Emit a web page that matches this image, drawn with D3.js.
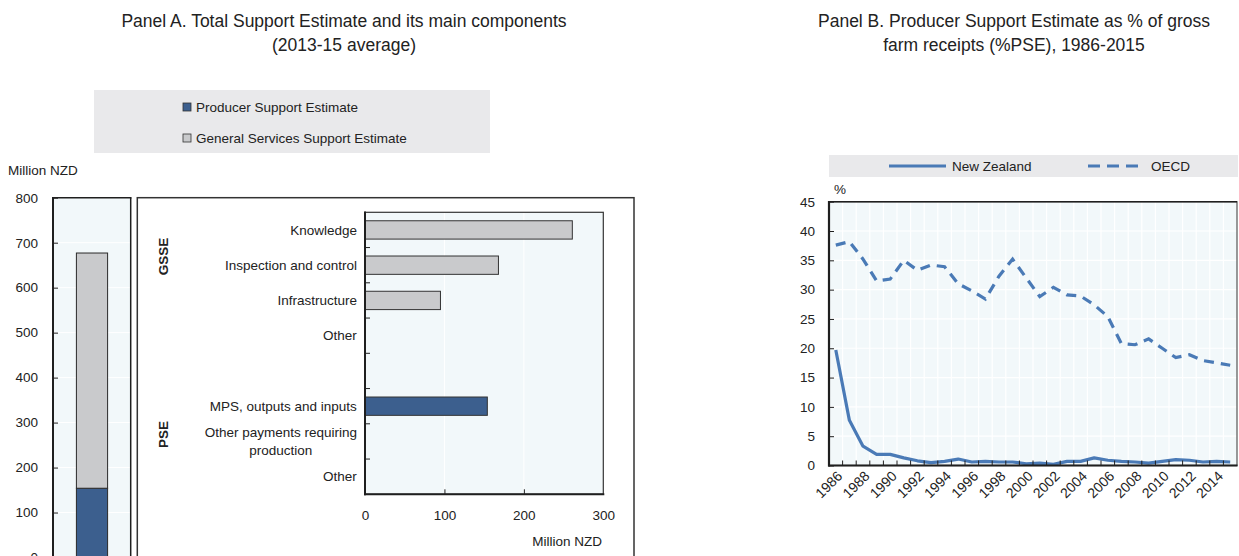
<!DOCTYPE html>
<html>
<head>
<meta charset="utf-8">
<script src="https://cdn.jsdelivr.net/npm/d3@7"></script>
<style>
  body { margin: 0; background: #fff; }
  svg { display: block; font-family: "Liberation Sans", Arial, Helvetica, sans-serif; }
</style>
</head>
<body>
<svg id="chart" width="1239" height="556"></svg>
<script>
// ---- Panel A: Total Support Estimate, 2013-15 average (million NZD) ----
const tseKeys = ["pse", "gsse"];
const tseNames = ["Producer Support Estimate", "General Services Support Estimate"];
const tseValues = [154, 523];
const tseTicks = [0, 100, 200, 300, 400, 500, 600, 700, 800];

// Components of the support estimates (million NZD)
const componentLabels = ["Knowledge", "Inspection and control", "Infrastructure", "Other", "",
  "MPS, outputs and inputs", "Other payments requiring production", "Other"];
const componentGroups = ["gsse", "gsse", "gsse", "gsse", "", "pse", "pse", "pse"];
const componentValues = [261, 168, 95, 0, 0, 154, 0, 0];
const componentTicks = [0, 100, 200, 300];
const groupLabels = ["GSSE", "PSE"];

// ---- Panel B: %PSE, 1986-2015 ----
const years = [1986, 1987, 1988, 1989, 1990, 1991, 1992, 1993, 1994, 1995,
  1996, 1997, 1998, 1999, 2000, 2001, 2002, 2003, 2004, 2005,
  2006, 2007, 2008, 2009, 2010, 2011, 2012, 2013, 2014, 2015];
const nzPSE = [19.7, 7.7, 3.3, 1.9, 1.9, 1.3, 0.8, 0.5, 0.7, 1.1,
  0.6, 0.7, 0.6, 0.6, 0.3, 0.4, 0.2, 0.7, 0.7, 1.3,
  0.9, 0.7, 0.6, 0.4, 0.7, 1.0, 0.9, 0.6, 0.7, 0.6];
const oecdPSE = [37.6, 38.2, 35.2, 31.5, 31.8, 35.0, 33.3, 34.2, 33.9, 31.0,
  29.8, 28.4, 32.3, 35.2, 32.0, 28.8, 30.4, 29.1, 28.9, 27.4,
  25.4, 20.8, 20.6, 21.6, 20.0, 18.4, 18.9, 17.9, 17.5, 17.1];
const seriesNames = ["New Zealand", "OECD"];
const pseTicks = [0, 5, 10, 15, 20, 25, 30, 35, 40, 45];

// ---- Styling ----
const colors = { pse: "#3c5f8e", gsse: "#c9cacc" };
const lineColor = "#4a7ab6";
const plotBg = "#f2f8fa";
const legendBg = "#e9e9eb";
const axisColor = "#1f1f1f";
const textColor = "#222";
const fontSize = 13.5;

const svg = d3.select("#chart");

function addText(g, x, y, str, opts = {}) {
  return g.append("text")
    .attr("x", x).attr("y", y)
    .attr("dy", "0.35em")
    .attr("text-anchor", opts.anchor || "start")
    .attr("font-size", opts.size || fontSize)
    .attr("font-weight", opts.weight || "normal")
    .attr("fill", textColor)
    .text(str);
}

// ---- Titles ----
addText(svg, 344, 21, "Panel A. Total Support Estimate and its main components", { anchor: "middle", size: 17.5 });
addText(svg, 344, 45, "(2013-15 average)", { anchor: "middle", size: 17.5 });
addText(svg, 1014, 21, "Panel B. Producer Support Estimate as % of gross", { anchor: "middle", size: 17.5 });
addText(svg, 1014, 45, "farm receipts (%PSE), 1986-2015", { anchor: "middle", size: 17.5 });

// ---- Panel A legend ----
const legA = svg.append("g");
legA.append("rect").attr("x", 94).attr("y", 90).attr("width", 396).attr("height", 63).attr("fill", legendBg);
tseKeys.forEach((k, i) => {
  const cy = 107 + i * 31;
  legA.append("rect").attr("x", 183).attr("y", cy - 4).attr("width", 8).attr("height", 8)
    .attr("fill", colors[k]).attr("stroke", "#333").attr("stroke-width", 0.8);
  addText(legA, 196, cy, tseNames[i]);
});

// ---- Panel A: stacked TSE bar ----
const gA = svg.append("g");
const yA = d3.scaleLinear().domain([0, 800]).range([557.5, 197.7]);
const xA = d3.scaleBand().domain(["TSE"]).range([53, 131]).paddingInner(0.6).paddingOuter(0.3);

gA.append("rect").attr("x", 53).attr("y", 197.7).attr("width", 78).attr("height", 370).attr("fill", plotBg);
gA.selectAll("line.grid").data(tseTicks.slice(1, -1)).join("line")
  .attr("x1", 53).attr("x2", 131).attr("y1", d => yA(d)).attr("y2", d => yA(d))
  .attr("stroke", "#fff").attr("stroke-width", 1);

const stackRow = {};
tseKeys.forEach((k, i) => { stackRow[k] = tseValues[i]; });
const stacked = d3.stack().keys(tseKeys)([stackRow]);
gA.selectAll("rect.seg").data(stacked).join("rect")
  .attr("x", xA("TSE")).attr("width", xA.bandwidth())
  .attr("y", s => yA(s[0][1])).attr("height", s => yA(s[0][0]) - yA(s[0][1]))
  .attr("fill", s => colors[s.key]).attr("stroke", "#2a2a2a").attr("stroke-width", 1);

const axA = gA.append("g").attr("transform", "translate(53,0)")
  .call(d3.axisLeft(yA).tickValues(tseTicks).tickSize(-5).tickPadding(15));
axA.select(".domain").remove();
axA.selectAll(".tick line").attr("stroke", axisColor);
axA.selectAll(".tick text").attr("font-size", fontSize).attr("fill", textColor).attr("font-family", null);
addText(gA, 8, 170, "Million NZD");

// frame of the TSE panel
gA.append("line").attr("x1", 53).attr("x2", 53).attr("y1", 197).attr("y2", 570).attr("stroke", axisColor).attr("stroke-width", 2);
gA.append("line").attr("x1", 52).attr("x2", 131.5).attr("y1", 197.7).attr("y2", 197.7).attr("stroke", axisColor).attr("stroke-width", 1.5);
gA.append("line").attr("x1", 130.7).attr("x2", 130.7).attr("y1", 197.7).attr("y2", 570).attr("stroke", axisColor).attr("stroke-width", 1.5);

// ---- Panel A: components ----
const gC = svg.append("g");
gC.append("rect").attr("x", 137.3).attr("y", 197.7).attr("width", 496.7).attr("height", 380)
  .attr("fill", "#fff").attr("stroke", "#333").attr("stroke-width", 1.5);

const xC = d3.scaleLinear().domain([0, 300]).range([365, 603.3]);
const idx = componentLabels.map((d, i) => i);
const yC = d3.scaleBand().domain(idx).range([212.3, 494.3]).paddingInner(0.48).paddingOuter(0.24);

gC.append("rect").attr("x", xC(0)).attr("y", 212.3).attr("width", xC(300) - xC(0)).attr("height", 282).attr("fill", plotBg);
gC.selectAll("line.vgrid").data(componentTicks.slice(1, -1)).join("line")
  .attr("x1", d => xC(d)).attr("x2", d => xC(d)).attr("y1", 212.3).attr("y2", 494.3)
  .attr("stroke", "#fff").attr("stroke-width", 1);

gC.selectAll("rect.bar").data(idx.filter(i => componentValues[i] > 0)).join("rect")
  .attr("x", xC(0)).attr("y", i => yC(i))
  .attr("width", i => xC(componentValues[i]) - xC(0)).attr("height", yC.bandwidth())
  .attr("fill", i => colors[componentGroups[i]]).attr("stroke", "#333").attr("stroke-width", 1);

// category boundaries on the vertical axis
const bounds = idx.slice(0, -1).map(i => yC(i) + yC.bandwidth() / 2 + yC.step() / 2);
gC.selectAll("line.ytick").data(bounds).join("line")
  .attr("x1", xC(0)).attr("x2", xC(0) + 5).attr("y1", d => d).attr("y2", d => d)
  .attr("stroke", axisColor).attr("stroke-width", 1);

// category labels (wrapped, block right-aligned, lines centred)
const labelRight = 357;
idx.forEach(i => {
  const label = componentLabels[i];
  if (!label) return;
  const cy = yC(i) + yC.bandwidth() / 2;
  const t = gC.append("text").attr("font-size", fontSize).attr("fill", textColor).attr("text-anchor", "middle");
  const words = label.split(" ");
  const lines = [];
  let cur = [];
  words.forEach(w => {
    const trial = cur.concat(w).join(" ");
    t.text(trial);
    if (t.node().getComputedTextLength() > 160 && cur.length) { lines.push(cur.join(" ")); cur = [w]; }
    else cur.push(w);
  });
  lines.push(cur.join(" "));
  t.text(null);
  const lh = 18.4;
  lines.forEach((ln, j) => {
    t.append("tspan").attr("x", 0).attr("y", cy + (j - (lines.length - 1) / 2) * lh).attr("dy", "0.35em").text(ln);
  });
  const w = t.node().getBBox().width;
  t.attr("transform", `translate(${labelRight - w / 2},0)`);
});

const axC = gC.append("g").attr("transform", "translate(0,494.3)")
  .call(d3.axisBottom(xC).tickValues(componentTicks).tickSize(-5).tickPadding(16));
axC.select(".domain").remove();
axC.selectAll(".tick line").attr("stroke", axisColor).attr("opacity", d => (d === 0 || d === 300) ? 0 : 1);
axC.selectAll(".tick text").attr("font-size", fontSize).attr("fill", textColor).attr("font-family", null);
addText(gC, 602, 541, "Million NZD", { anchor: "end" });

// plot frame
gC.append("rect").attr("x", xC(0)).attr("y", 212.3).attr("width", xC(300) - xC(0)).attr("height", 282)
  .attr("fill", "none").attr("stroke", "#333").attr("stroke-width", 1.2);
gC.append("line").attr("x1", xC(0)).attr("x2", xC(0)).attr("y1", 211.5).attr("y2", 495.3).attr("stroke", axisColor).attr("stroke-width", 2);
gC.append("line").attr("x1", xC(0) - 1).attr("x2", xC(300) + 1).attr("y1", 494.3).attr("y2", 494.3).attr("stroke", axisColor).attr("stroke-width", 2);

// group labels
const groupPos = [256.5, 434.5];
groupLabels.forEach((g, i) => {
  gC.append("text").attr("transform", `translate(163.5,${groupPos[i]}) rotate(-90)`)
    .attr("text-anchor", "middle").attr("dy", "0.35em")
    .attr("font-size", fontSize).attr("font-weight", "bold").attr("fill", textColor).text(g);
});

// ---- Panel B ----
const gB = svg.append("g");
const xB = d3.scaleBand().domain(years).range([829, 1237]);
const yB = d3.scaleLinear().domain([0, 45]).range([465.5, 201.7]);
const cx = d => xB(d) + xB.bandwidth() / 2;

// legend
gB.append("rect").attr("x", 829).attr("y", 155).attr("width", 409).attr("height", 22).attr("fill", legendBg);
const legendItems = [
  { name: seriesNames[0], x: 889, dash: null },
  { name: seriesNames[1], x: 1088, dash: "12,7" }
];
legendItems.forEach(it => {
  gB.append("line").attr("x1", it.x).attr("x2", it.x + 57).attr("y1", 166).attr("y2", 166)
    .attr("stroke", lineColor).attr("stroke-width", 3).attr("stroke-dasharray", it.dash);
  addText(gB, it.x + 63, 166, it.name);
});
addText(gB, 834, 189, "%");

gB.append("rect").attr("x", 829).attr("y", yB(45)).attr("width", 408).attr("height", yB(0) - yB(45)).attr("fill", plotBg);
gB.selectAll("line.hgrid").data(pseTicks.slice(1, -1)).join("line")
  .attr("x1", 829).attr("x2", 1237).attr("y1", d => yB(d)).attr("y2", d => yB(d))
  .attr("stroke", "#fff").attr("stroke-width", 1.2);
gB.selectAll("line.vgrid").data(years.slice(1)).join("line")
  .attr("x1", d => xB(d)).attr("x2", d => xB(d)).attr("y1", yB(45)).attr("y2", yB(0))
  .attr("stroke", "#fff").attr("stroke-width", 1.2);

const lineGen = vals => d3.line().x((d, i) => cx(years[i])).y(d => yB(d))(vals);
gB.append("path").attr("d", lineGen(oecdPSE)).attr("fill", "none")
  .attr("stroke", lineColor).attr("stroke-width", 3.2).attr("stroke-dasharray", "10,7");
gB.append("path").attr("d", lineGen(nzPSE)).attr("fill", "none")
  .attr("stroke", lineColor).attr("stroke-width", 3.2).attr("stroke-linejoin", "round");

// axes
const axBy = gB.append("g").attr("transform", "translate(829,0)")
  .call(d3.axisLeft(yB).tickValues(pseTicks).tickSize(-5).tickPadding(14));
axBy.select(".domain").remove();
axBy.selectAll(".tick line").attr("stroke", axisColor);
axBy.selectAll(".tick text").attr("font-size", fontSize).attr("fill", textColor).attr("font-family", null);

gB.selectAll("line.xtick").data(years.slice(1)).join("line")
  .attr("x1", d => xB(d)).attr("x2", d => xB(d)).attr("y1", yB(0)).attr("y2", yB(0) - 5)
  .attr("stroke", axisColor).attr("stroke-width", 1);

gB.selectAll("text.year").data(years.filter((d, i) => i % 2 === 0)).join("text")
  .attr("transform", d => `translate(${cx(d) + 4},${yB(0) + 8}) rotate(-45)`)
  .attr("text-anchor", "end").attr("dy", "0.35em")
  .attr("font-size", 14).attr("fill", textColor).text(d => d);

// frame
gB.append("rect").attr("x", 829).attr("y", yB(45)).attr("width", 408).attr("height", yB(0) - yB(45))
  .attr("fill", "none").attr("stroke", "#555").attr("stroke-width", 1.2);
gB.append("line").attr("x1", 829).attr("x2", 1237).attr("y1", yB(45)).attr("y2", yB(45)).attr("stroke", axisColor).attr("stroke-width", 1.5);
gB.append("line").attr("x1", 829).attr("x2", 829).attr("y1", yB(45) - 0.7).attr("y2", yB(0) + 1).attr("stroke", axisColor).attr("stroke-width", 2.2);
gB.append("line").attr("x1", 828).attr("x2", 1237.5).attr("y1", yB(0)).attr("y2", yB(0)).attr("stroke", axisColor).attr("stroke-width", 2.2);
</script>
</body>
</html>
